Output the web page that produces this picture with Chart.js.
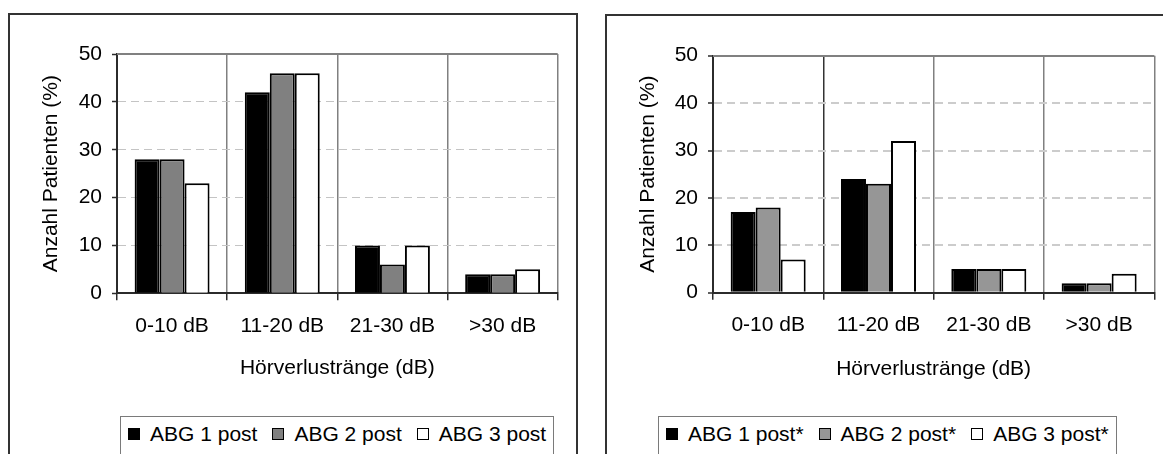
<!DOCTYPE html>
<html>
<head>
<meta charset="utf-8">
<script src="https://cdn.jsdelivr.net/npm/chart.js@4"></script>
<style>
  body { margin: 0; width: 1163px; height: 454px; overflow: hidden; background: #fff; position: relative;
         font-family: "Liberation Sans", Arial, sans-serif; }
  .frame { position: absolute; border: 2px solid #333; border-bottom: none; height: 470px; }
  #frameL { left: 8px; top: 13px; width: 566px; }
  #frameR { left: 605px; top: 14px; width: 600px; }
  .frame canvas { position: absolute; left: 0; top: 0; }
  .legend { position: absolute; top: 416px; height: 60px; border: 1px solid #7a7a7a; border-bottom: none;
            padding: 5px 7px 0 7px; display: flex; align-items: flex-start; font-size: 21px; color: #000; white-space: nowrap; }
  .legend .item { display: flex; align-items: center; height: 24px; line-height: 24px; margin-right: 15px; }
  .legend .item:last-child { margin-right: 0; }
  .legend .swatch { width: 10px; height: 10px; border: 1px solid #000; margin-right: 10px; }
</style>
</head>
<body>
<div class="frame" id="frameL"><canvas id="chartL" width="566" height="400"></canvas></div>
<div class="frame" id="frameR"><canvas id="chartR" width="556" height="400"></canvas></div>
<div class="legend" id="legendL" style="left:120px"></div>
<div class="legend" id="legendR" style="left:658px"></div>
<script>
const categories = ['0-10 dB', '11-20 dB', '21-30 dB', '>30 dB'];
const yTicks = [0, 10, 20, 30, 40, 50];
const yTitle = 'Anzahl Patienten (%)';
const xTitle = 'Hörverlustränge (dB)';

const leftLabels = ['ABG 1 post', 'ABG 2 post', 'ABG 3 post'];
const leftAbg1 = [28, 42, 10, 4];
const leftAbg2 = [28, 46, 6, 4];
const leftAbg3 = [23, 46, 10, 5];

const rightLabels = ['ABG 1 post*', 'ABG 2 post*', 'ABG 3 post*'];
const rightAbg1 = [17, 24, 5, 2];
const rightAbg2 = [18, 23, 5, 2];
const rightAbg3 = [7, 32, 5, 4];

const FONT = '"Liberation Sans", Arial, sans-serif';
const AXIS = '#2b2b2b';
const CAT_LINE = '#808080';

// solid gray line along the top of the plot area
const plotTop = {
  id: 'plotTop',
  afterDraw(chart) {
    const { ctx, chartArea: a } = chart;
    ctx.save();
    ctx.strokeStyle = CAT_LINE;
    ctx.lineWidth = 2;
    ctx.beginPath();
    ctx.moveTo(a.left, Math.round(a.top));
    ctx.lineTo(a.right, Math.round(a.top));
    ctx.stroke();
    ctx.restore();
  }
};

function makeChart(id, cfg) {
  const canvas = document.getElementById(id);
  const W = canvas.width, H = canvas.height;
  return new Chart(canvas, {
    type: 'bar',
    data: {
      labels: categories,
      datasets: cfg.series.map((values, i) => ({
        label: cfg.labels[i],
        data: values,
        backgroundColor: cfg.fills[i],
        borderColor: '#000',
        borderWidth: 2,
        categoryPercentage: 0.68,
        barPercentage: 1.0
      }))
    },
    options: {
      responsive: false,
      animation: false,
      events: [],
      layout: { padding: { top: cfg.area.top, right: W - cfg.area.right, left: 0, bottom: 0 } },
      plugins: { legend: { display: false }, tooltip: { enabled: false } },
      scales: {
        x: {
          grid: {
            offset: true,
            color: c => (c.index === 0 ? AXIS : (c.index === 1 && cfg.darkFirstDivider) ? '#333' : CAT_LINE),
            lineWidth: 1.5,
            tickLength: 7,
            tickColor: AXIS
          },
          border: { color: AXIS, width: 2 },
          ticks: { color: '#000', font: { family: FONT, size: 21 }, padding: 13, maxRotation: 0 },
          title: { display: true, text: xTitle, color: '#000', font: { family: FONT, size: 21 },
                   padding: { top: 0, bottom: 34 } },
          afterFit: s => { s.height = H - cfg.area.bottom; }
        },
        y: {
          min: 0,
          max: 50,
          afterBuildTicks: s => { s.ticks = yTicks.map(v => ({ value: v })); },
          grid: {
            color: c => (c.tick && (c.tick.value === 0 || c.tick.value === 50)) ? 'rgba(0,0,0,0)' : cfg.dashColor,
            lineWidth: cfg.dashWidth,
            tickLength: 5,
            tickColor: AXIS,
            tickWidth: 1.5
          },
          border: { color: AXIS, width: 2, dash: [8, 5] },
          ticks: { color: '#000', font: { family: FONT, size: 21 }, padding: 10 },
          title: { display: true, text: yTitle, color: '#000', font: { family: FONT, size: 21 },
                   padding: { top: 29, bottom: 0 } },
          afterFit: s => { s.width = cfg.area.left; }
        }
      }
    },
    plugins: [plotTop]
  });
}

function buildLegend(el, labels, fills) {
  labels.forEach((text, i) => {
    const item = document.createElement('span');
    item.className = 'item';
    const sw = document.createElement('span');
    sw.className = 'swatch';
    sw.style.background = fills[i];
    item.appendChild(sw);
    item.appendChild(document.createTextNode(text));
    el.appendChild(item);
  });
}

const leftFills = ['#000000', '#808080', '#ffffff'];
const rightFills = ['#000000', '#969696', '#ffffff'];

makeChart('chartL', {
  labels: leftLabels,
  series: [leftAbg1, leftAbg2, leftAbg3],
  fills: leftFills,
  area: { left: 107, right: 547.7, top: 39, bottom: 278.3 },
  dashColor: '#c4c4c4',
  dashWidth: 1,
  darkFirstDivider: false
});

makeChart('chartR', {
  labels: rightLabels,
  series: [rightAbg1, rightAbg2, rightAbg3],
  fills: rightFills,
  area: { left: 106, right: 547.3, top: 39.7, bottom: 276.7 },
  dashColor: '#cccccc',
  dashWidth: 2,
  darkFirstDivider: true
});

buildLegend(document.getElementById('legendL'), leftLabels, leftFills);
buildLegend(document.getElementById('legendR'), rightLabels, rightFills);
</script>
</body>
</html>
